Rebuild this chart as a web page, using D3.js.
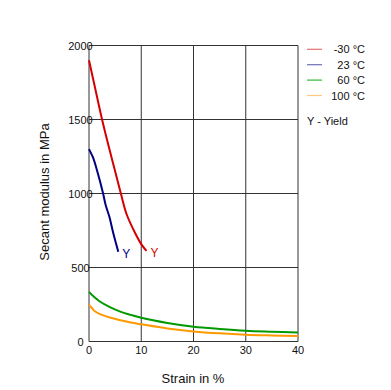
<!DOCTYPE html>
<html><head><meta charset="utf-8">
<script src="https://cdn.jsdelivr.net/npm/d3@7"></script>
<style>body{margin:0;background:#fff}svg{display:block;font-family:"Liberation Sans",Arial,sans-serif}</style>
</head><body>
<svg id="c" width="391" height="390"></svg>
<script>
const seriesNames = ["-30 °C", "23 °C", "60 °C", "100 °C"];
const colors = ["#d40000", "#000080", "#009900", "#ff9900"];
const legendColors = ["#e87070", "#6e6eb8", "#33bb33", "#ffc880"];
const xTicks = [0, 10, 20, 30, 40];
const yTicks = [0, 500, 1000, 1500, 2000];
const strainM30 = [0, 1, 2.5, 3.9, 5, 6.1, 7.2, 8.8, 10, 11];
const modM30 = [1900, 1740, 1500, 1300, 1150, 1000, 860, 735, 658, 612];
const strain23 = [0, 0.8, 1.5, 2.7, 3.2, 3.9, 4.65, 5.6];
const mod23 = [1300, 1240, 1160, 1000, 920, 843, 731, 607];
const strain60 = [0, 1, 2, 4, 6, 8, 10, 15, 20, 25, 30, 35, 40];
const mod60 = [335, 300, 272, 232, 202, 180, 160, 125, 100, 85, 73, 66, 60];
const strain100 = [0, 0.5, 1, 2, 4, 6, 8, 10, 15, 20, 25, 30, 35, 40];
const mod100 = [250, 228, 208, 187, 162, 143, 128, 116, 88, 68, 55, 46, 41, 37];
const yieldLabel = "Y";

const series = [
  {x: strainM30, y: modM30, yieldMark: true},
  {x: strain23, y: mod23, yieldMark: true},
  {x: strain60, y: mod60, yieldMark: false},
  {x: strain100, y: mod100, yieldMark: false}
];

const svg = d3.select("#c");
const x = d3.scaleLinear().domain([0, 40]).range([89, 298]);
const y = d3.scaleLinear().domain([0, 2000]).range([341.5, 45.5]);

// grid
const g = svg.append("g");
g.selectAll(".vx").data(xTicks).join("line")
  .attr("x1", d => x(d)).attr("x2", d => x(d)).attr("y1", y(0)).attr("y2", y(2000))
  .attr("stroke", "#333").attr("stroke-width", 1);
g.selectAll(".hy").data(yTicks).join("line")
  .attr("y1", d => y(d)).attr("y2", d => y(d)).attr("x1", x(0)).attr("x2", x(40))
  .attr("stroke", "#333").attr("stroke-width", 1);

// tick labels
svg.append("g").selectAll("text").data(yTicks).join("text")
  .attr("x", 80.5).attr("y", d => y(d) + 4).attr("text-anchor", "middle")
  .attr("font-size", 11).attr("fill", "#111").text(d => d);
svg.append("g").selectAll("text").data(xTicks).join("text")
  .attr("x", d => x(d)).attr("y", 353.5).attr("text-anchor", "middle")
  .attr("font-size", 11).attr("fill", "#111").text(d => d);

// curves
const line = d3.line().curve(d3.curveCatmullRom.alpha(0.5));
series.forEach((s, i) => {
  const pts = s.x.map((v, j) => [x(v), y(s.y[j])]);
  svg.append("path").attr("d", line(pts)).attr("fill", "none")
    .attr("stroke", colors[i]).attr("stroke-width", 2);
  if (s.yieldMark) {
    const last = s.x.length - 1;
    svg.append("text").attr("x", x(s.x[last]) + 4).attr("y", y(s.y[last]) + 6)
      .attr("font-size", 12).attr("fill", colors[i]).text(yieldLabel);
  }
});

// axis titles
svg.append("text").attr("x", 193).attr("y", 383).attr("text-anchor", "middle")
  .attr("font-size", 13).attr("fill", "#111").text("Strain in %");
svg.append("text").attr("transform", "translate(48.5,192) rotate(-90)").attr("text-anchor", "middle")
  .attr("font-size", 13).attr("fill", "#111").text("Secant modulus in MPa");

// legend
const lg = svg.append("g");
seriesNames.forEach((n, i) => {
  const ly = 49.3 + i * 15.4;
  lg.append("line").attr("x1", 307).attr("x2", 322).attr("y1", ly).attr("y2", ly)
    .attr("stroke", legendColors[i]).attr("stroke-width", 1.2);
  lg.append("text").attr("x", 365).attr("y", ly + 4).attr("text-anchor", "end")
    .attr("font-size", 11).attr("fill", "#111").text(n);
});
lg.append("text").attr("x", 307).attr("y", 125).attr("font-size", 11).attr("fill", "#111").text("Y - Yield");
</script>
</body></html>
